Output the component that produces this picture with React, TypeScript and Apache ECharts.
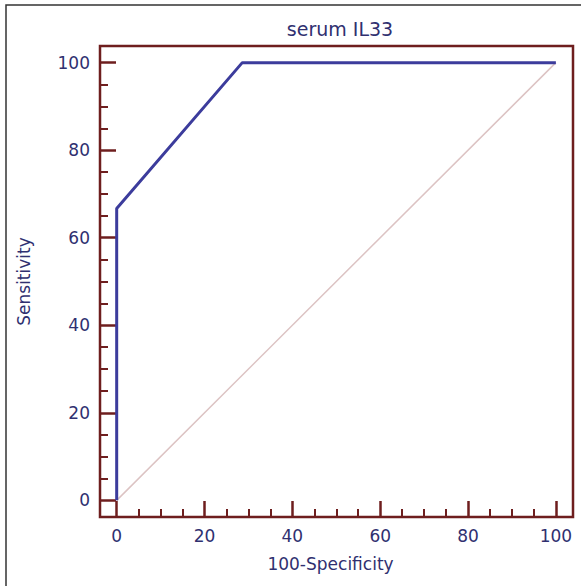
import React, { useEffect, useRef } from "react";
import * as echarts from "echarts";

const rocX = [0, 0, 28.6, 100];
const rocY = [0, 66.7, 100, 100];
const diagX = [0, 100];
const diagY = [0, 100];
const majorTicks = [0, 20, 40, 60, 80, 100];
const minorTicks = [5, 10, 15, 25, 30, 35, 45, 50, 55, 65, 70, 75, 85, 90, 95];
const titleText = "serum IL33";
const xName = "100-Specificity";
const yName = "Sensitivity";

const MAROON = "#6e1e1e";
const NAVY = "#303070";
const BLUE = "#3c3c9c";
const FONT = "DejaVu Sans";

export default function App() {
  const ref = useRef<HTMLDivElement>(null);
  useEffect(() => {
    if (!ref.current) return;
    const chart = echarts.init(ref.current, null, { renderer: "svg" });
    const axisBase = (isX: boolean) => ({
      type: "value" as const,
      min: -3.8,
      max: isX ? 103.9 : 103.8,
      splitLine: { show: false },
      axisLine: { show: false, onZero: false },
    });
    const majorAxis = (isX: boolean) => ({
      ...axisBase(isX),
      position: isX ? "bottom" : "left",
      name: isX ? xName : yName,
      nameLocation: "middle",
      nameGap: isX ? 38 : 68,
      nameTextStyle: {
        color: NAVY,
        fontSize: 17,
        fontFamily: FONT,
        padding: isX ? [0, 12, 0, 0] : 0,
      },
      axisTick: {
        show: true,
        inside: true,
        length: 16,
        customValues: majorTicks,
        lineStyle: { color: MAROON, width: 2.5 },
      },
      axisLabel: {
        show: true,
        customValues: majorTicks,
        color: NAVY,
        fontSize: 17,
        fontFamily: FONT,
        margin: 10,
      },
    });
    const minorAxis = (isX: boolean) => ({
      ...axisBase(isX),
      position: isX ? "bottom" : "left",
      offset: 0,
      axisTick: {
        show: true,
        inside: true,
        length: 8,
        customValues: minorTicks,
        lineStyle: { color: MAROON, width: 2 },
      },
      axisLabel: { show: false },
    });
    chart.setOption({
      animation: false,
      backgroundColor: "#ffffff",
      title: {
        text: titleText,
        left: 335,
        top: 14,
        textAlign: "center",
        textStyle: { color: NAVY, fontSize: 19, fontWeight: "normal", fontFamily: FONT },
      },
      grid: {
        left: 100,
        top: 46,
        right: 15,
        bottom: 69,
        show: true,
        borderColor: MAROON,
        borderWidth: 2.5,
        containLabel: false,
      },
      xAxis: [majorAxis(true), minorAxis(true)],
      yAxis: [majorAxis(false), minorAxis(false)],
      graphic: [
        {
          type: "polyline",
          shape: { points: [[6, 586], [6, 5], [581, 5]] },
          style: { stroke: "#333333", lineWidth: 1.5, fill: null },
          silent: true,
        },
      ],
      series: [
        {
          type: "line",
          data: diagX.map((x, i) => [x, diagY[i]]),
          symbol: "none",
          lineStyle: { color: "#dcc3c3", width: 1.5 },
          z: 2,
        },
        {
          type: "line",
          data: rocX.map((x, i) => [x, rocY[i]]),
          symbol: "none",
          lineStyle: { color: BLUE, width: 3 },
          z: 3,
        },
      ],
    });
    return () => chart.dispose();
  }, []);
  return (
    <div
      ref={ref}
      style={{ position: "fixed", left: 0, top: 0, width: 588, height: 586, background: "#fff" }}
    />
  );
}
